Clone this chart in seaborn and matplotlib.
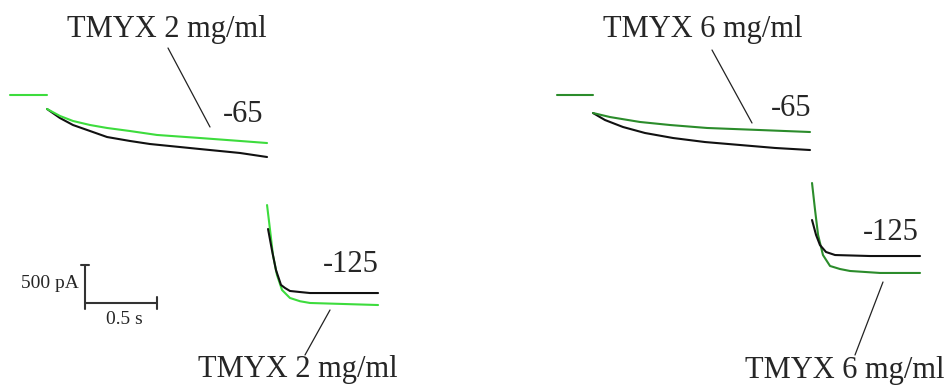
import numpy as np
import pandas as pd
import matplotlib
matplotlib.use("Agg")
import matplotlib.pyplot as plt
from matplotlib.lines import Line2D
import seaborn as sns

sns.set_style("white")
plt.rcParams['font.family'] = ['Liberation Serif', 'DejaVu Serif']

# ---------------- data (time in s, current in pA) ----------------
# Left panel: TMYX 2 mg/ml
L_hold_t = [0.0, 0.257]
L_hold_i = [0, 0]
L65_ctrl_t = [0.257, 0.347, 0.4375, 0.556, 0.674, 0.833, 0.972, 1.319, 1.597, 1.785]
L65_ctrl_i = [-184, -303, -395, -474, -553, -605, -645, -711, -763, -816]
L65_drug_t = [0.257, 0.347, 0.4375, 0.556, 0.674, 0.833, 1.021, 1.319, 1.597, 1.785]
L65_drug_i = [-184, -276, -342, -395, -434, -474, -526, -566, -605, -632]
L125_ctrl_t = [1.792, 1.819, 1.847, 1.882, 1.910, 1.944, 2.014, 2.083, 2.556]
L125_ctrl_i = [-1763, -2040, -2303, -2500, -2540, -2579, -2593, -2606, -2606]
L125_drug_t = [1.785, 1.806, 1.826, 1.854, 1.889, 1.944, 2.014, 2.083, 2.556]
L125_drug_i = [-1448, -1777, -2106, -2369, -2566, -2671, -2714, -2737, -2764]

# Right panel: TMYX 6 mg/ml
R_hold_t = [0.0, 0.25]
R_hold_i = [0, 0]
R65_ctrl_t = [0.25, 0.333, 0.458, 0.611, 0.806, 1.028, 1.271, 1.514, 1.757]
R65_ctrl_i = [-237, -329, -421, -500, -566, -619, -658, -697, -724]
R65_drug_t = [0.25, 0.368, 0.576, 0.785, 1.042, 1.410, 1.757]
R65_drug_i = [-237, -290, -355, -395, -434, -461, -487]
R125_ctrl_t = [1.771, 1.799, 1.826, 1.868, 1.931, 2.174, 2.521]
R125_ctrl_i = [-1645, -1842, -1974, -2066, -2106, -2119, -2119]
R125_drug_t = [1.771, 1.792, 1.813, 1.847, 1.896, 1.965, 2.035, 2.243, 2.521]
R125_drug_i = [-1158, -1513, -1842, -2106, -2250, -2290, -2316, -2342, -2342]

drug_labels = ["TMYX 2 mg/ml", "TMYX 6 mg/ml"]
volt_labels = ["-65", "-125"]
scale_t = 0.5     # s
scale_i = 500     # pA
scale_labels = ["500 pA", "0.5 s"]

GREEN_L = "#3ddc3d"
GREEN_R = "#2b8c2b"
BLACK = "#111111"

W, H = 949, 386
fig = plt.figure(figsize=(W / 100, H / 100), dpi=100)
axL = fig.add_axes([0, 0, 0.5, 1])
axR = fig.add_axes([0.5, 0, 0.5, 1])

PX_S = 144.0
PA_PX = 13.16
ylim = (-(H - 95) * PA_PX, 95 * PA_PX)
axL.set_xlim(-10 / PX_S, (W / 2 - 10) / PX_S)
axR.set_xlim(-(557 - W / 2) / PX_S, (W - 557) / PX_S)
for ax in (axL, axR):
    ax.set_ylim(*ylim)
    ax.set_axis_off()


def trace(ax, t, i, color):
    sns.lineplot(x=t, y=i, ax=ax, color=color, lw=1.5, sort=False,
                 estimator=None)


trace(axL, L_hold_t, L_hold_i, GREEN_L)
trace(axL, L65_ctrl_t, L65_ctrl_i, BLACK)
trace(axL, L65_drug_t, L65_drug_i, GREEN_L)
trace(axL, L125_drug_t, L125_drug_i, GREEN_L)
trace(axL, L125_ctrl_t, L125_ctrl_i, BLACK)

trace(axR, R_hold_t, R_hold_i, GREEN_R)
trace(axR, R65_ctrl_t, R65_ctrl_i, BLACK)
trace(axR, R65_drug_t, R65_drug_i, GREEN_R)
trace(axR, R125_drug_t, R125_drug_i, GREEN_R)
trace(axR, R125_ctrl_t, R125_ctrl_i, BLACK)

# scale bar (left panel)
sb_t0 = (85 - 10) / PX_S
sb_i0 = -(303 - 95) * PA_PX
axL.plot([sb_t0, sb_t0, sb_t0 + scale_t], [sb_i0 + scale_i, sb_i0, sb_i0],
         color="#333333", lw=1.5)
axL.plot([sb_t0 - 0.03, sb_t0 + 0.03], [sb_i0 + scale_i] * 2, color="#333333", lw=1.5)
axL.plot([sb_t0 + scale_t] * 2, [sb_i0 - 80, sb_i0 + 80], color="#333333", lw=1.5)
axL.plot([sb_t0] * 2, [sb_i0 - 80, sb_i0], color="#333333", lw=1.5)


def fx(x):
    return x / W


def fy(y):
    return 1 - y / H


fs_big = 22
fig.text(fx(167), fy(37), drug_labels[0], ha="center", va="baseline", fontsize=fs_big)
fig.text(fx(298), fy(377), drug_labels[0], ha="center", va="baseline", fontsize=fs_big)
fig.text(fx(703), fy(37), drug_labels[1], ha="center", va="baseline", fontsize=fs_big)
fig.text(fx(845), fy(378), drug_labels[1], ha="center", va="baseline", fontsize=fs_big)

fig.text(fx(243), fy(115), volt_labels[0], ha="center", va="center", fontsize=fs_big)
fig.text(fx(351), fy(265), volt_labels[1], ha="center", va="center", fontsize=fs_big)
fig.text(fx(791), fy(108), volt_labels[0], ha="center", va="center", fontsize=fs_big)
fig.text(fx(891), fy(232), volt_labels[1], ha="center", va="center", fontsize=fs_big)

fig.text(fx(79), fy(283), scale_labels[0], ha="right", va="center", fontsize=14)
fig.text(fx(124), fy(319), scale_labels[1], ha="center", va="center", fontsize=14)

for (x1, y1, x2, y2) in [(168, 48, 210, 127), (330, 310, 305, 355),
                         (712, 50, 752, 123), (883, 282, 855, 355)]:
    fig.add_artist(Line2D([fx(x1), fx(x2)], [fy(y1), fy(y2)],
                          transform=fig.transFigure, color="#222222", lw=0.9))

fig.savefig("out.png", dpi=100, facecolor="white")
